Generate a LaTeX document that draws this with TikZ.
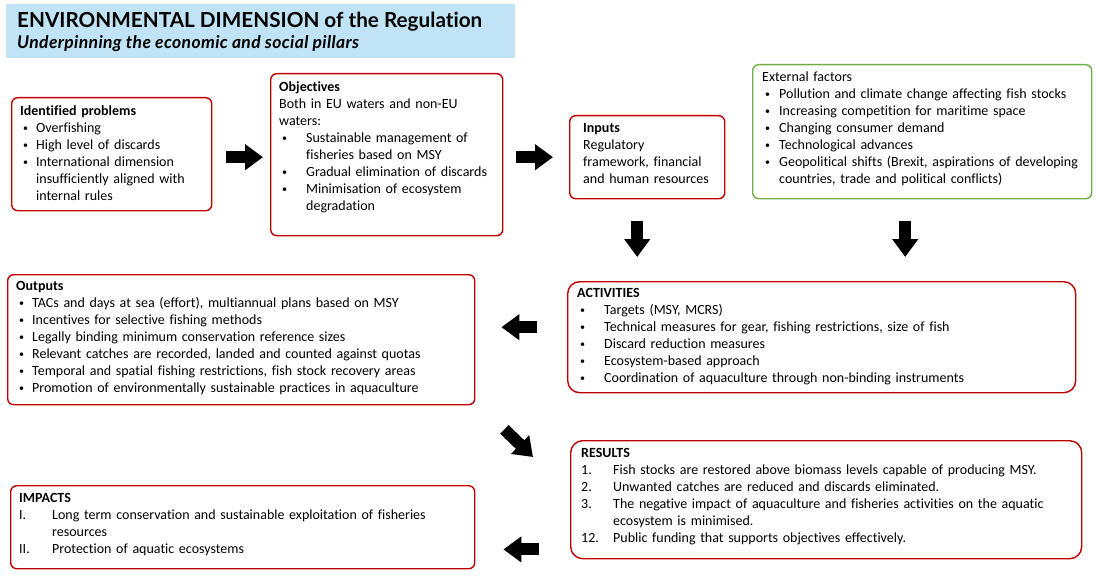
\documentclass[tikz,border=0pt]{standalone}
\usepackage{fontspec}
\setmainfont{Carlito}[Ligatures=NoCommon]
\newfontfamily\headfont{Lato}[Ligatures=NoCommon]
\usetikzlibrary{positioning, arrows.meta, calc}

\definecolor{boxred}{HTML}{C00000}
\definecolor{boxgreen}{HTML}{70AD47}
\definecolor{titleblue}{HTML}{C0E4F5}

% list helpers
\newcommand{\itm}[1]{\makebox[#1][l]{\hspace{3pt}\raisebox{1pt}{\fontsize{10}{10}\selectfont•}}}
\newcommand{\nmb}[2]{\makebox[#1][l]{#2}}
\newcommand{\cont}[1]{\hspace*{#1}}

\begin{document}
\begin{tikzpicture}[x=1pt, y=-1pt,
    redbox/.style={rectangle, draw=boxred, line width=1.4pt, rounded corners=6pt, anchor=north west, inner sep=0pt},
    greenbox/.style={redbox, draw=boxgreen},
    boxtext/.style={anchor=north west, inner sep=0pt, align=left, font=\fontsize{14}{17}\selectfont},
    blockarrow/.style={line width=12pt, -{Triangle[length=18pt, width=25pt]}},
]
\useasboundingbox (0,0) rectangle (1099,580);

% title
\node[fill=titleblue, anchor=north west, minimum width=509pt, minimum height=54pt, inner sep=0pt] (titlebox) at (6,4) {};
\node[anchor=base west, inner sep=0pt, font=\headfont\bfseries\fontsize{20.7}{24}\selectfont] (title) at (17,28) {ENVIRONMENTAL DIMENSION of the Regulation};
\node[anchor=base west, inner sep=0pt, font=\headfont\bfseries\itshape\fontsize{17.5}{20}\selectfont\addfontfeatures{LetterSpace=2}] (subtitle) at (17,49) {Underpinning the economic and social pillars};

% boxes
\node[redbox, minimum width=200pt, minimum height=113pt] (prob) at (11,97) {};
\node[redbox, minimum width=232pt, minimum height=162pt] (obj) at (270,73) {};
\node[redbox, minimum width=155pt, minimum height=83pt] (inp) at (569,115) {};
\node[greenbox, minimum width=339pt, minimum height=134pt] (ext) at (752,64) {};
\node[redbox, minimum width=467pt, minimum height=130pt] (out) at (7,274) {};
\node[redbox, rounded corners=12pt, minimum width=508pt, minimum height=111pt] (act) at (567,281) {};
\node[redbox, rounded corners=12pt, minimum width=511pt, minimum height=118pt] (res) at (570,440) {};
\node[redbox, minimum width=464pt, minimum height=83pt] (imp) at (10,485) {};

% texts
\node[boxtext, text width=188pt, below right=8pt and 9pt of prob.north west] (probtxt) {%
\textbf{Identified problems}\\
\itm{16pt}Overfishing\\
\itm{16pt}High level of discards\\
\itm{16pt}International dimension\\
\cont{16pt}insufficiently aligned with\\
\cont{16pt}internal rules};

\node[boxtext, text width=220pt, below right=8pt and 9pt of obj.north west] (objtxt) {%
\textbf{Objectives}\\
Both in EU waters and non-EU\\
waters:\\
\itm{27pt}Sustainable management of\\
\cont{27pt}fisheries based on MSY\\
\itm{27pt}Gradual elimination of discards\\
\itm{27pt}Minimisation of ecosystem\\
\cont{27pt}degradation};

\node[boxtext, text width=140pt, below right=8pt and 14pt of inp.north west] (inptxt) {%
\textbf{Inputs}\\
Regulatory\\
framework, financial\\
and human resources};

\node[boxtext, text width=328pt, below right=8pt and 10pt of ext.north west] (exttxt) {%
External factors\\
\itm{17pt}Pollution and climate change affecting fish stocks\\
\itm{17pt}Increasing competition for maritime space\\
\itm{17pt}Changing consumer demand\\
\itm{17pt}Technological advances\\
\itm{17pt}Geopolitical shifts (Brexit, aspirations of developing\\
\cont{17pt}countries, trade and political conflicts)};

\node[boxtext, text width=455pt, below right=7pt and 9pt of out.north west] (outtxt) {%
\textbf{Outputs}\\
\itm{16pt}TACs and days at sea (effort), multiannual plans based on MSY\\
\itm{16pt}Incentives for selective fishing methods\\
\itm{16pt}Legally binding minimum conservation reference sizes\\
\itm{16pt}Relevant catches are recorded, landed and counted against quotas\\
\itm{16pt}Temporal and spatial fishing restrictions, fish stock recovery areas\\
\itm{16pt}Promotion of environmentally sustainable practices in aquaculture};

\node[boxtext, text width=495pt, below right=7pt and 10pt of act.north west] (acttxt) {%
\textbf{ACTIVITIES}\\
\itm{27pt}Targets (MSY, MCRS)\\
\itm{27pt}Technical measures for gear, fishing restrictions, size of fish\\
\itm{27pt}Discard reduction measures\\
\itm{27pt}Ecosystem-based approach\\
\itm{27pt}Coordination of aquaculture through non-binding instruments};

\node[boxtext, text width=495pt, below right=8pt and 11pt of res.north west] (restxt) {%
\textbf{RESULTS}\\
\nmb{32pt}{1.}Fish stocks are restored above biomass levels capable of producing MSY.\\
\nmb{32pt}{2.}Unwanted catches are reduced and discards eliminated.\\
\nmb{32pt}{3.}The negative impact of aquaculture and fisheries activities on the aquatic\\
\cont{32pt}ecosystem is minimised.\\
\nmb{32pt}{12.}Public funding that supports objectives effectively.};

\node[boxtext, text width=450pt, below right=8pt and 9pt of imp.north west] (imptxt) {%
\textbf{IMPACTS}\\
\nmb{33pt}{I.}Long term conservation and sustainable exploitation of fisheries\\
\cont{33pt}resources\\
\nmb{33pt}{II.}Protection of aquatic ecosystems};

% arrows
\coordinate (dg1) at ([shift={(29pt,-24pt)}]out.south east);
\coordinate (dg2) at ([shift={(-37pt,-17pt)}]res.north west);
\draw[blockarrow, shorten <=14pt, shorten >=7pt] ([yshift=-3pt]prob.east) -- ([yshift=-3pt]prob.east -| obj.west);
\draw[blockarrow, shorten <=13pt, shorten >=16pt] (obj.east |- inp.west) -- (inp.west);
\draw[blockarrow, shorten <=22pt, shorten >=24pt] ([xshift=-10pt]inp.south) -- ([xshift=-10pt]inp.south |- act.north);
\draw[blockarrow, shorten <=22pt, shorten >=24pt] ([xshift=-17pt]ext.south) -- ([xshift=-17pt]ext.south |- act.north);
\draw[blockarrow, shorten <=30pt, shorten >=26pt] ([yshift=10pt]act.west) -- ([yshift=10pt]act.west -| out.east);
\draw[blockarrow] (dg1) -- (dg2);
\draw[blockarrow, shorten <=31pt, shorten >=28pt] ([yshift=20pt]res.west |- imp.south) -- ([yshift=20pt]imp.south east);
\end{tikzpicture}
\end{document}
